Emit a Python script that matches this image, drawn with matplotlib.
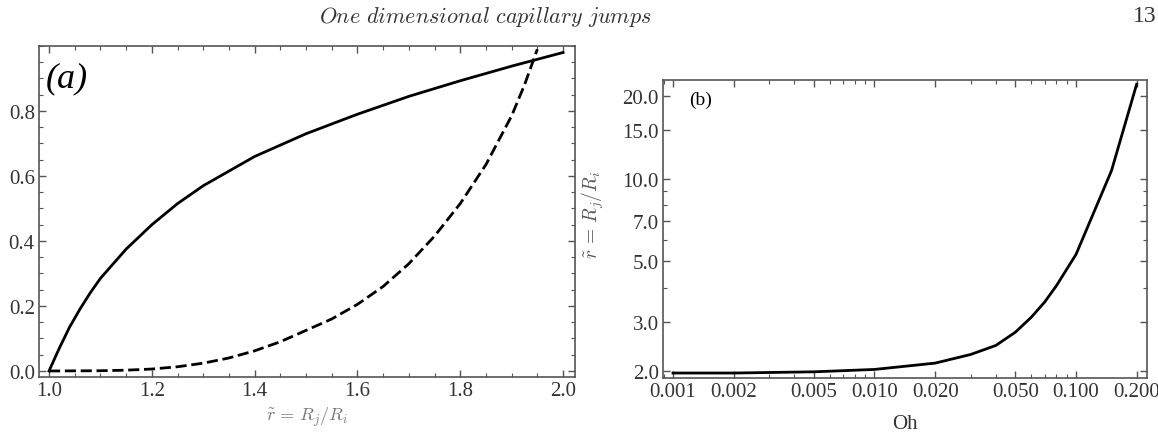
import numpy as np
import matplotlib.pyplot as plt
from matplotlib.ticker import FixedLocator, MultipleLocator, LogLocator, NullFormatter

plt.rcParams['mathtext.fontset'] = 'cm'
plt.rcParams['font.family'] = 'Liberation Serif'

# panel (a): solid and dashed curves vs r = Rj/Ri
r_solid = [1.0, 1.02, 1.04, 1.06, 1.08, 1.1, 1.15, 1.2, 1.25, 1.3, 1.4, 1.5, 1.6, 1.7, 1.8, 1.9, 2.0]
y_solid = [0.0, 0.07, 0.135, 0.19, 0.24, 0.285, 0.375, 0.45, 0.515, 0.57, 0.66, 0.73, 0.79, 0.845, 0.893, 0.938, 0.98]
r_dashed = [1.0, 1.1, 1.15, 1.2, 1.25, 1.3, 1.35, 1.4, 1.45, 1.5, 1.55, 1.6, 1.65, 1.7, 1.75, 1.8, 1.85, 1.9, 1.925, 1.95]
y_dashed = [0.0, 0.0008, 0.0025, 0.006, 0.013, 0.024, 0.04, 0.062, 0.09, 0.125, 0.16, 0.205, 0.26, 0.33, 0.415, 0.515, 0.635, 0.785, 0.88, 0.99]

# panel (b): r vs Oh (log-log)
oh = [0.001, 0.002, 0.005, 0.01, 0.02, 0.03, 0.04, 0.05, 0.06, 0.07, 0.08, 0.1, 0.15, 0.2]
r_oh = [1.96, 1.96, 1.98, 2.02, 2.13, 2.29, 2.47, 2.76, 3.13, 3.56, 4.08, 5.3, 10.7, 22.1]
xticks_b = [0.001, 0.002, 0.005, 0.01, 0.02, 0.05, 0.1, 0.2]
xlabels_b = ['0.001', '0.002', '0.005', '0.010', '0.020', '0.050', '0.100', '0.200']
yticks_b = [2.0, 3.0, 5.0, 7.0, 10.0, 15.0, 20.0]
ylabels_b = ['2.0', '3.0', '5.0', '7.0', '10.0', '15.0', '20.0']

fig = plt.figure(figsize=(11.58, 4.35), dpi=100)
W, H = 1158, 435

def box(l, t, r, b):
    return [l / W, 1 - b / H, (r - l) / W, (b - t) / H]

def style(ax):
    for s in ax.spines.values():
        s.set_color('#555555')
        s.set_linewidth(1.2)
    ax.tick_params(which='both', direction='in', top=True, right=True,
                   colors='#555555', labelcolor='#333333', labelsize=15)
    ax.tick_params(which='major', length=5, width=1, pad=3)
    ax.tick_params(which='minor', length=3, width=0.8)

ax1 = fig.add_axes(box(39, 47, 575, 378))
ax1.plot(r_solid, y_solid, color='black', lw=2)
ax1.plot(r_dashed, y_dashed, color='black', lw=2, ls=(0, (4, 1.7)))
ax1.set_xlim(0.9805, 2.0233)
ax1.set_ylim(-0.0185, 1.0)
ax1.xaxis.set_major_locator(MultipleLocator(0.2))
ax1.xaxis.set_minor_locator(MultipleLocator(0.05))
ax1.yaxis.set_major_locator(FixedLocator([0.0, 0.2, 0.4, 0.6, 0.8]))
ax1.yaxis.set_minor_locator(MultipleLocator(0.05))
ax1.xaxis.set_major_formatter(plt.FuncFormatter(lambda v, p: f'{v:.1f}'))
ax1.yaxis.set_major_formatter(plt.FuncFormatter(lambda v, p: f'{v:.1f}'))
style(ax1)
ax1.set_xlabel(r'$\tilde{r}\,=\,R_j/R_i$', fontsize=13, color='#777777', labelpad=3)
ax1.text(0.012, 0.955, '(a)', transform=ax1.transAxes, fontsize=26,
         fontstyle='italic', va='top', ha='left')

ax2 = fig.add_axes(box(663, 81, 1147, 379))
ax2.plot(oh, r_oh, color='black', lw=2)
ax2.set_xscale('log')
ax2.set_yscale('log')
ax2.set_xlim(0.000892, 0.2251)
ax2.set_ylim(1.88, 22.9)
ax2.xaxis.set_major_locator(FixedLocator(xticks_b))
ax2.xaxis.set_major_formatter(plt.FixedFormatter(xlabels_b))
ax2.xaxis.set_minor_locator(LogLocator(base=10, subs=np.arange(1, 10)))
ax2.xaxis.set_minor_formatter(NullFormatter())
ax2.yaxis.set_major_locator(FixedLocator(yticks_b))
ax2.yaxis.set_major_formatter(plt.FixedFormatter(ylabels_b))
ax2.yaxis.set_minor_locator(LogLocator(base=10, subs=np.arange(1, 10)))
ax2.yaxis.set_minor_formatter(NullFormatter())
style(ax2)
ax2.set_xlabel('Oh', fontsize=15, color='#333333', labelpad=9)
ax2.set_ylabel(r'$\tilde{r}\,=\,R_j/R_i$', fontsize=14, color='#555555')
ax2.yaxis.set_label_coords(-0.118, 0.55)
ax2.text(0.055, 0.965, '(b)', transform=ax2.transAxes, fontsize=14, va='top', ha='left')

fig.text(485 / W, 1 - 17 / H, r'$\mathit{One\ dimensional\ capillary\ jumps}$',
         fontsize=16, ha='center', va='center', color='#333333')
fig.text(1145 / W, 1 - 17 / H, '13', fontsize=17, ha='center', va='center', color='#333333')

fig.savefig('out.png', dpi=100)
